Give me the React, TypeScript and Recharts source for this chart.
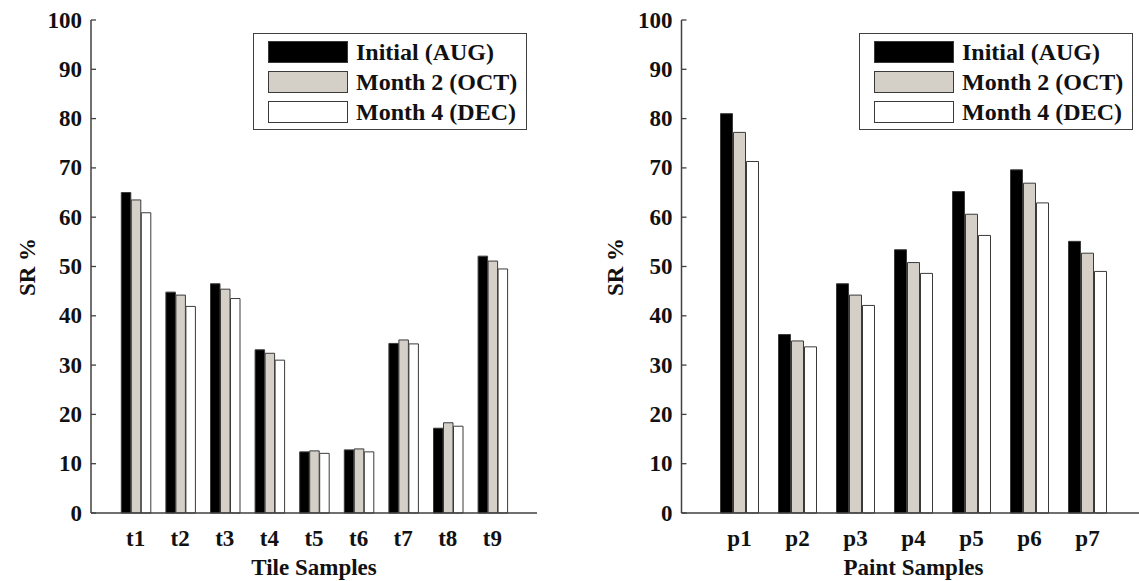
import React from "react"
import { BarChart, Bar, XAxis, YAxis } from "recharts"

// tile panel
const tileSamples = ["t1", "t2", "t3", "t4", "t5", "t6", "t7", "t8", "t9"]
const tileAug = [65.0, 44.8, 46.5, 33.1, 12.4, 12.8, 34.4, 17.2, 52.1]
const tileOct = [63.5, 44.2, 45.4, 32.4, 12.6, 13.0, 35.1, 18.3, 51.1]
const tileDec = [60.9, 41.9, 43.5, 31.0, 12.1, 12.4, 34.3, 17.6, 49.5]

// paint panel
const paintSamples = ["p1", "p2", "p3", "p4", "p5", "p6", "p7"]
const paintAug = [81.0, 36.2, 46.5, 53.4, 65.2, 69.6, 55.1]
const paintOct = [77.2, 34.9, 44.2, 50.8, 60.6, 66.9, 52.7]
const paintDec = [71.3, 33.7, 42.1, 48.6, 56.3, 62.9, 49.0]

const yTicks = [0, 10, 20, 30, 40, 50, 60, 70, 80, 90, 100]

const series = [
  { key: "aug", name: "Initial (AUG)", color: "#000000" },
  { key: "oct", name: "Month 2 (OCT)", color: "#d4d0c8" },
  { key: "dec", name: "Month 4 (DEC)", color: "#ffffff" },
]

const toRows = (cats: string[], aug: number[], oct: number[], dec: number[]) =>
  cats.map((name, i) => ({ name, aug: aug[i], oct: oct[i], dec: dec[i] }))

const tileData = toRows(tileSamples, tileAug, tileOct, tileDec)
const paintData = toRows(paintSamples, paintAug, paintOct, paintDec)

const AXIS = "#404040"
const fontStyle: React.CSSProperties = {
  fontFamily: "'Liberation Serif', 'Times New Roman', serif",
  fontWeight: 700,
  fontSize: 23,
  fill: "#111",
  color: "#111",
}

const LeftTick = (props: any) => {
  const { x, y, payload } = props
  return (
    <g>
      <text x={x} y={y} textAnchor="end" dominantBaseline="central" style={fontStyle}>
        {payload.value}
      </text>
      <line x1={x + 9} x2={x + 14} y1={y} y2={y} stroke={AXIS} strokeWidth={1.3} />
    </g>
  )
}

const RightTick = (props: any) => {
  const { x, y } = props
  return <line x1={x - 5} x2={x} y1={y} y2={y} stroke={AXIS} strokeWidth={1.3} />
}

const TopTick = (props: any) => {
  const { x, y } = props
  return <line x1={x} x2={x} y1={y} y2={y + 5} stroke={AXIS} strokeWidth={1.3} />
}

const BottomTick = (props: any) => {
  const { x, y, payload } = props
  return (
    <text x={x} y={y} textAnchor="middle" dominantBaseline="central" style={fontStyle}>
      {payload.value}
    </text>
  )
}

interface PanelProps {
  left: number
  width: number
  yAxisWidth: number
  marginRight: number
  data: any[]
  barSize: number
  barGap: number
  xLabel: string
  yLabelX: number
  legendLeft: number
}

const HEIGHT = 581
const TOP = 20
const BOTTOM = 68

const Panel = ({ left, width, yAxisWidth, marginRight, data, barSize, barGap, xLabel, yLabelX, legendLeft }: PanelProps) => {
  const plotW = width - yAxisWidth - marginRight
  const pad = plotW / (data.length + 1) / 2
  const centerX = left + yAxisWidth + plotW / 2
  return (
    <>
      <div style={{ position: "absolute", left, top: 0 }}>
        <BarChart
          width={width}
          height={HEIGHT}
          data={data}
          barSize={barSize}
          barGap={barGap}
          margin={{ top: TOP, right: marginRight, left: 0, bottom: 0 }}
        >
          <XAxis
            dataKey="name"
            height={BOTTOM}
            interval={0}
            padding={{ left: pad, right: pad }}
            tickSize={0}
            tickMargin={25}
            tick={<BottomTick />}
            axisLine={{ stroke: AXIS, strokeWidth: 1.5 }}
          />
          <XAxis
            xAxisId="top"
            orientation="top"
            dataKey="name"
            height={0}
            interval={0}
            padding={{ left: pad, right: pad }}
            tickSize={0}
            tickMargin={0}
            tick={<TopTick />}
            axisLine={{ stroke: AXIS, strokeWidth: 1.5 }}
          />
          <YAxis
            width={yAxisWidth}
            domain={[0, 100]}
            ticks={yTicks}
            interval={0}
            tickSize={0}
            tickMargin={9}
            tick={<LeftTick />}
            axisLine={{ stroke: AXIS, strokeWidth: 1.5 }}
          />
          <YAxis
            yAxisId="right"
            orientation="right"
            width={0}
            domain={[0, 100]}
            ticks={yTicks}
            interval={0}
            tickSize={0}
            tickMargin={0}
            tick={<RightTick />}
            axisLine={{ stroke: AXIS, strokeWidth: 1.5 }}
          />
          {series.map((s) => (
            <Bar
              key={s.key}
              dataKey={s.key}
              name={s.name}
              fill={s.color}
              stroke="#3a3a3a"
              strokeWidth={1}
              isAnimationActive={false}
            />
          ))}
        </BarChart>
      </div>

      {/* axis titles */}
      <div
        style={{
          ...fontStyle,
          position: "absolute",
          left: centerX,
          top: 568,
          transform: "translate(-50%, -50%)",
          whiteSpace: "nowrap",
        }}
      >
        {xLabel}
      </div>
      <div
        style={{
          ...fontStyle,
          position: "absolute",
          left: yLabelX,
          top: 267,
          transform: "translate(-50%, -50%) rotate(-90deg)",
          whiteSpace: "nowrap",
        }}
      >
        SR %
      </div>

      {/* legend */}
      <div
        style={{
          position: "absolute",
          left: legendLeft,
          top: 33,
          width: 272,
          height: 95,
          border: `1.5px solid ${AXIS}`,
          background: "#fff",
        }}
      >
        {series.map((s, i) => (
          <div
            key={s.key}
            style={{ position: "absolute", left: 14, top: 7 + i * 30, display: "flex", alignItems: "center", height: 22 }}
          >
            <div
              style={{
                width: 78,
                height: 20,
                background: s.color,
                border: "1.5px solid #3a3a3a",
              }}
            />
            <span style={{ ...fontStyle, fontSize: 24, marginLeft: 8, lineHeight: "22px" }}>{s.name}</span>
          </div>
        ))}
      </div>
    </>
  )
}

export default function App() {
  return (
    <div
      style={{
        position: "absolute",
        left: 0,
        top: 0,
        width: 1139,
        height: HEIGHT,
        overflow: "hidden",
        background: "#fff",
      }}
    >
      <Panel
        left={0}
        width={560}
        yAxisWidth={91}
        marginRight={23}
        data={tileData}
        barSize={9.5}
        barGap={0.5}
        xLabel="Tile Samples"
        yLabelX={28}
        legendLeft={253}
      />
      <Panel
        left={560}
        width={600}
        yAxisWidth={121.5}
        marginRight={14.5}
        data={paintData}
        barSize={12}
        barGap={1}
        xLabel="Paint Samples"
        yLabelX={616}
        legendLeft={859}
      />
    </div>
  )
}
